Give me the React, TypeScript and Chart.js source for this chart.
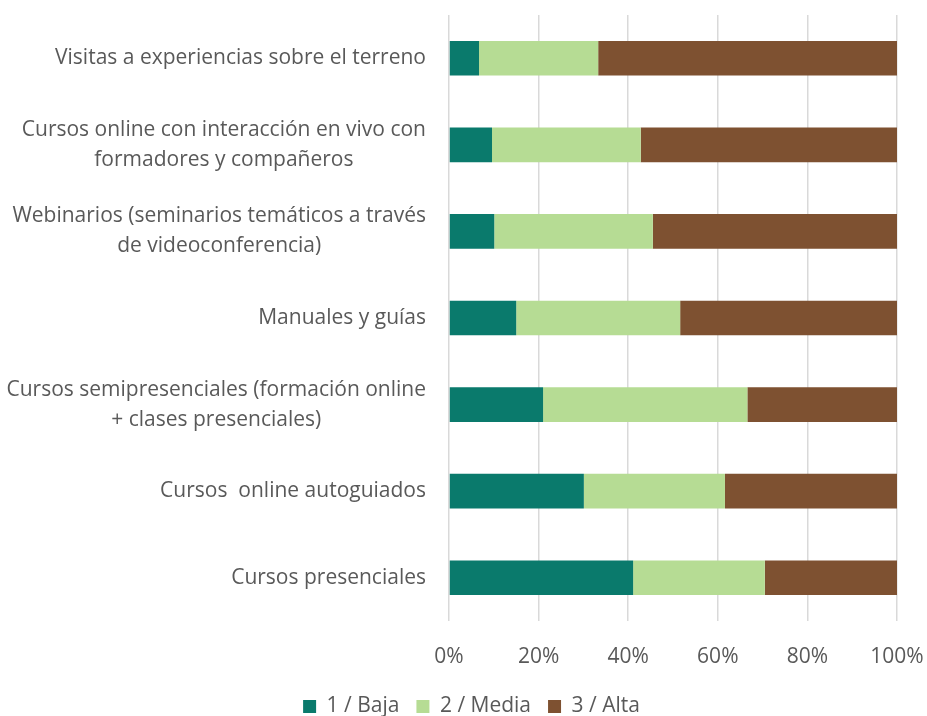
import React, { useEffect, useRef } from "react";
import { Chart, registerables } from "chart.js";

Chart.register(...registerables);

const categoryLines: string[][] = [
  ["Visitas a experiencias sobre el terreno"],
  ["Cursos online con interacción en vivo con", "formadores y compañeros"],
  ["Webinarios (seminarios temáticos a través", "de videoconferencia)"],
  ["Manuales y guías"],
  ["Cursos semipresenciales (formación online", "+ clases presenciales)"],
  ["Cursos  online autoguiados"],
  ["Cursos presenciales"],
];

const seriesNames = ["1 / Baja", "2 / Media", "3 / Alta"];
const baja = [6.7, 9.6, 10.1, 15.0, 21.0, 30.1, 41.1];
const media = [26.6, 33.2, 35.4, 36.6, 45.6, 31.5, 29.4];
const alta = [66.7, 57.2, 54.5, 48.4, 33.4, 38.4, 29.5];
const xTicks = [0, 20, 40, 60, 80, 100];

const COLORS = ["#0a7a6c", "#b6dc94", "#7e5131"];
const TEXT = "#595959";
const FONT = "'Open Sans', sans-serif";
const FONT_SIZE = 21;
const LINE_H = 30;
const LABEL_GAP = 23;

const yLabelPlugin = {
  id: "yLabelsCentered",
  afterDraw(chart: any) {
    const ctx = chart.ctx;
    const y = chart.scales.y;
    const area = chart.chartArea;
    ctx.save();
    ctx.font = `${FONT_SIZE}px ${FONT}`;
    ctx.fillStyle = TEXT;
    ctx.textBaseline = "middle";
    ctx.textAlign = "center";
    categoryLines.forEach((lines, i) => {
      const cy = y.getPixelForValue(i);
      const w = Math.max(...lines.map((l) => ctx.measureText(l).width));
      const right = area.left - LABEL_GAP;
      const cx = right - w / 2;
      const n = lines.length;
      lines.forEach((l, j) => {
        ctx.fillText(l, cx, cy + (j - (n - 1) / 2) * LINE_H);
      });
    });
    ctx.restore();
  },
};

export default function App() {
  const ref = useRef<HTMLCanvasElement | null>(null);
  useEffect(() => {
    document.body.style.margin = "0";
    const canvas = ref.current;
    if (!canvas) return;
    const chart = new Chart(canvas, {
      type: "bar",
      data: {
        labels: categoryLines.map((l) => l.join(" ")),
        datasets: [baja, media, alta].map((d, i) => ({
          label: seriesNames[i],
          data: d,
          backgroundColor: COLORS[i],
          borderWidth: 0,
          barPercentage: 0.4,
          categoryPercentage: 1,
        })),
      },
      options: {
        indexAxis: "y",
        animation: false,
        responsive: false,
        maintainAspectRatio: false,
        layout: { padding: { left: 46, right: 30, top: 15, bottom: -11 } },
        plugins: {
          tooltip: { enabled: false },
          legend: {
            position: "bottom",
            labels: {
              boxWidth: 13,
              boxHeight: 13,
              padding: 17,
              color: TEXT,
              font: { family: FONT, size: FONT_SIZE },
            },
          },
        },
        scales: {
          x: {
            stacked: true,
            min: 0,
            max: 100,
            afterBuildTicks(scale: any) {
              scale.ticks = xTicks.map((v) => ({ value: v }));
            },
            afterFit(scale: any) {
              scale.height = 58;
              scale.paddingLeft = 0;
              scale.paddingRight = 0;
            },
            ticks: {
              color: TEXT,
              padding: 23,
              font: { family: FONT, size: FONT_SIZE },
              callback: (v: any) => `${v}%`,
            },
            grid: { color: "#d9d9d9", lineWidth: 1.5, drawTicks: false },
            border: { display: false },
          },
          y: {
            stacked: true,
            ticks: { display: false },
            afterFit(scale: any) {
              scale.width = 403;
            },
            grid: { display: false },
            border: { display: false },
          },
        },
      },
      plugins: [yLabelPlugin],
    } as any);
    return () => chart.destroy();
  }, []);
  return (
    <div style={{ width: 927, height: 716 }}>
      <canvas ref={ref} width={927} height={716} style={{ display: "block" }} />
    </div>
  );
}
